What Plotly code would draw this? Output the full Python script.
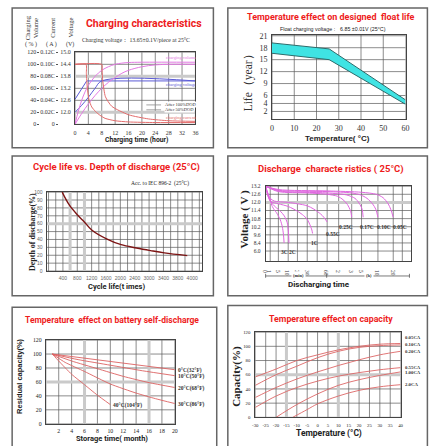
import plotly.graph_objects as go
import numpy as np

W, H = 437, 446

# ================= DATA =================
# Panel 1 - charging characteristics
chg_time_ticks = [0, 4, 8, 12, 16, 20, 24, 28, 32, 36]
chg_volume_ticks = [0, 20, 40, 60, 80, 100, 120]
chg_current_ticks = [0, 0.02, 0.04, 0.06, 0.08, 0.10, 0.12]
chg_current_labels = ["0", "0.02C", "0.04C", "0.06C", "0.08C", "0.10C", "0.12C"]
chg_voltage_grid = [11.4, 12.0, 12.6, 13.2, 13.8, 14.4, 15.0]
chg_voltage_ticks = [12.0, 12.6, 13.2, 13.8, 14.4, 15.0]
chg_voltage_labels = ["12.0", "12.6", "13.2", "13.8", "14.4", "15.0"]

vol50_t = [0, 1, 2, 3, 4, 6, 8, 10, 12, 14, 16, 20, 36]
vol50_pct = [0, 22, 40, 54, 65, 80, 90, 96, 100, 102, 103, 103.5, 103.5]
vol100_t = [0, 2, 4, 6, 8, 10, 12, 14, 16, 20, 24, 28, 36]
vol100_pct = [0, 18, 34, 48, 60, 70, 78, 85, 90, 96, 99, 100, 100]
volt50_t = [0, 1, 2, 3, 3.5, 36]
volt50_v = [12.65, 12.9, 13.15, 13.4, 13.57, 13.57]
volt100_t = [0, 2, 4, 6, 8, 36]
volt100_v = [12.0, 12.35, 12.75, 13.2, 13.57, 13.57]
cur50_t = [0, 3.3, 3.4, 3.7, 4.2, 5, 6.2, 7.5, 9, 12, 16, 24, 36]
cur50_c = [0.10, 0.10, 0.085, 0.06, 0.041, 0.029, 0.021, 0.015, 0.010, 0.006, 0.004, 0.003, 0.003]
cur100_t = [0, 8, 8.1, 8.3, 9.1, 11, 16, 22, 28, 36]
cur100_c = [0.10, 0.10, 0.09, 0.073, 0.046, 0.030, 0.016, 0.009, 0.006, 0.005]

# Panel 2 - float life vs temperature
float_temp = [0, 25.7, 60]
float_life_upper = [19.2, 17.7, 4.9]
float_life_lower = [16.6, 15.0, 3.8]
float_temp_ticks = [0, 10, 20, 30, 40, 50, 60]
float_life_ticks = [2, 4, 6, 9, 12, 15, 18, 21]

# Panel 3 - cycle life vs depth of discharge
cycle_tick_pos = [400, 800, 1200, 1600, 2000, 2400, 2800, 3200, 3600, 4000]
cycle_tick_labels = ["400", "800", "1200", "1600", "2000", "2400", "3000", "3400", "3800", "4000"]
cycle_grid = list(range(0, 4201, 200))
dod_ticks = [0, 10, 20, 30, 40, 50, 60, 70, 80, 90, 100]
cycle_life = [380, 582, 809, 991, 1201, 1630, 2022, 2450, 2841, 3224, 3863]
cycle_dod = [100, 83.4, 70.9, 62.5, 52.1, 40.5, 33.4, 29.2, 25.9, 23.0, 19.6]

# Panel 4 - discharge characteristics
dis_tick_minutes = [0, 1, 5, 10, 20, 30, 60, 120, 180, 300, 600, 1200, 2400]
dis_tick_labels = ["0", "1", "5", "10", "20", "30", "60", "2", "3", "5", "10", "20", ""]
dis_scale_pos = [0, 4.7, 13, 23, 32.4, 42.4, 62.7, 74.4, 87.7, 97.7, 114.4, 130, 148.5]
dis_grid_minutes = [1, 5, 10, 20, 30, 45, 60, 120, 180, 300, 600, 1200, 1800]
dis_v_ticks = [13.2, 12.6, 12.0, 11.4, 10.8, 10.2, 9.6, 9.0, 8.4]
dis_v_labels = ["13.2", "12.6", "12.0", "11.4", "10.8", "10.2", "9.6", "8.4", "6.0"]
dis_names = ["3C", "2C", "1C", "0.55C", "0.25C", "0.17C", "0.10C", "0.05C"]
dis_t = [
    [0, 0.5, 1, 2, 3, 4, 5, 6, 7, 7.6, 7.9],
    [0, 0.5, 1, 2, 4, 6, 8, 9.5, 10.3, 10.8],
    [0, 1, 5, 10, 20, 25, 30, 34, 37, 38],
    [0, 1, 3, 5, 10, 20, 30, 40, 50, 55, 60],
    [0, 5, 30, 60, 115, 140, 160, 175, 180],
    [0, 5, 60, 157, 220, 270, 310, 330],
    [0, 5, 60, 180, 290, 400, 500, 560, 600],
    [0, 5, 60, 300, 570, 800, 1000, 1100, 1200],
]
dis_v = [
    [13.2, 12.5, 12.1, 11.7, 11.45, 11.25, 11.0, 10.7, 10.2, 9.6, 9.0],
    [13.2, 12.6, 12.2, 11.9, 11.6, 11.35, 11.0, 10.5, 9.8, 9.0],
    [13.2, 12.1, 11.9, 11.7, 11.35, 11.1, 10.75, 10.35, 9.95, 9.7],
    [13.2, 12.3, 12.1, 12.05, 12.0, 11.9, 11.75, 11.5, 11.15, 10.9, 10.55],
    [13.2, 12.8, 12.7, 12.6, 12.45, 12.2, 11.85, 11.35, 10.9],
    [13.2, 12.85, 12.7, 12.55, 12.3, 11.95, 11.5, 10.9],
    [13.2, 12.9, 12.8, 12.7, 12.55, 12.3, 11.9, 11.5, 10.9],
    [13.2, 12.95, 12.85, 12.75, 12.6, 12.35, 11.9, 11.5, 10.9],
]

# Panel 5 - self discharge
sd_month_ticks = [2, 4, 6, 8, 10, 12, 14, 16, 18, 20]
sd_month_grid = [0, 2, 4, 6, 8, 10, 12, 14, 16, 18, 20]
sd_cap_ticks = [0, 20, 40, 60, 80, 100, 120]
sd_names = ["0°C(32°F)", "10°C(50°F)", "20°C(68°F)", "30°C(86°F)", "40°C(104°F)"]
sd_month = [
    [1, 20],
    [1, 5, 10, 15, 20],
    [1, 4, 8, 12, 16, 20],
    [1, 3, 6, 10, 14, 17, 20],
    [1, 2, 4, 6, 8, 10],
]
sd_cap = [
    [100, 77.5],
    [100, 92, 84, 76, 69],
    [100, 90, 79, 68, 59, 52],
    [100, 88, 75, 57, 44, 36, 29],
    [100, 90, 71, 56, 41, 27.5],
]

# Panel 6 - capacity vs temperature
cap_temp_ticks = [-30, -25, -20, -15, -10, -5, 0, 5, 10, 15, 20, 25, 30, 35, 40]
cap_ticks = [0, 20, 40, 60, 80, 100, 120]
cap_names = ["0.05CA", "0.10CA", "0.20CA", "0.55CA", "1.00CA", "2.0CA"]
cap_temp = [
    [-30, -20, -10, 0, 10, 20, 30, 40],
    [-30, -20, -10, 0, 10, 20, 30, 40],
    [-30, -20, -10, 0, 10, 20, 30, 40],
    [-30, -20, -10, 0, 10, 20, 30, 40],
    [-20, -10, 0, 10, 20, 30, 40],
    [-12, -5, 0, 10, 20, 30, 40],
]
cap_val = [
    [57, 68, 80, 88, 95, 100, 103, 104],
    [45, 60, 72, 84, 93, 98.5, 101, 102],
    [28, 42, 54, 64, 73, 81, 88, 93],
    [14, 30, 42, 51, 58, 63, 67, 70],
    [0, 18, 33, 45, 53, 59, 64],
    [0, 11, 19, 30, 38, 43, 46],
]

# ================= STYLE =================
SERIF = "Liberation Serif, Times New Roman, serif"
SANS = "Liberation Sans, Arial, sans-serif"
NARROW = "Roboto, Liberation Sans, sans-serif"
RED_T = "#ee1c1c"
GRID = "#5a5a5a"
FRAME = "#444444"
PALE = "#cacaca"

def dx(a, b):
    return [a / W, b / W]

def dy(top, bot):
    return [1 - bot / H, 1 - top / H]

annotations = []
shapes = []

def txt(s, x, y, size, color="#222222", family=SANS, bold=False, angle=0,
        xanchor="center", yanchor="middle", xref="paper", yref="paper", **kw):
    if xref == "paper":
        x = x / W
    if yref == "paper":
        y = 1 - y / H
    if bold:
        s = "<b>" + s + "</b>"
    annotations.append(dict(text=s, x=x, y=y, xref=xref, yref=yref, showarrow=False,
                            font=dict(size=size, color=color, family=family),
                            textangle=angle, xanchor=xanchor, yanchor=yanchor, **kw))

def box(x0, y0, x1, y1):
    shapes.append(dict(type="rect", xref="paper", yref="paper", x0=x0 / W, x1=x1 / W,
                       y0=1 - y1 / H, y1=1 - y0 / H, line=dict(color="#666666", width=1.5),
                       layer="below"))

def vline(xref, yref, x, color=GRID, width=0.7):
    shapes.append(dict(type="line", xref=xref, yref=yref + " domain", x0=x, x1=x, y0=0, y1=1,
                       line=dict(color=color, width=width), layer="below"))

def hline(xref, yref, y, color=GRID, width=0.7):
    shapes.append(dict(type="line", xref=xref + " domain", yref=yref, x0=0, x1=1, y0=y, y1=y,
                       line=dict(color=color, width=width), layer="below"))

def grid(xref, yref, xs, ys, pale_x=(), pale_y=()):
    for v in xs:
        vline(xref, yref, v)
    for v in ys:
        hline(xref, yref, v)
    for v in pale_x:
        vline(xref, yref, v, PALE, 3)
    for v in pale_y:
        hline(xref, yref, v, PALE, 3)

def axis(domain, rng, tickvals, ticktext, font, anchor, **kw):
    d = dict(domain=domain, range=rng, tickvals=tickvals, ticktext=ticktext, tickfont=font,
             anchor=anchor, showgrid=False, showline=True, mirror=True, linecolor=FRAME,
             linewidth=1, zeroline=False, ticks="", fixedrange=True)
    d.update(kw)
    return d

fig = go.Figure()
layout_axes = {}

# ---------------- Panel 1 ----------------
VOL_C, VLT_C, CUR_C = "#e37ae3", "#5b5bd6", "#e36b6b"
fig.add_trace(go.Scatter(x=vol50_t, y=vol50_pct, xaxis="x", yaxis="y2", mode="lines",
                         line=dict(color=VOL_C, width=1, shape="spline")))
fig.add_trace(go.Scatter(x=vol100_t, y=vol100_pct, xaxis="x", yaxis="y2", mode="lines",
                         line=dict(color=VOL_C, width=1, shape="spline")))
fig.add_trace(go.Scatter(x=volt50_t, y=volt50_v, xaxis="x", yaxis="y", mode="lines",
                         line=dict(color=VLT_C, width=1)))
fig.add_trace(go.Scatter(x=volt100_t, y=volt100_v, xaxis="x", yaxis="y", mode="lines",
                         line=dict(color=VLT_C, width=1, shape="spline")))
fig.add_trace(go.Scatter(x=cur50_t, y=cur50_c, xaxis="x", yaxis="y3", mode="lines",
                         line=dict(color=CUR_C, width=1, shape="spline", smoothing=0.6)))
fig.add_trace(go.Scatter(x=cur100_t, y=cur100_c, xaxis="x", yaxis="y3", mode="lines",
                         line=dict(color=CUR_C, width=1, shape="spline", smoothing=0.6)))
f1 = dict(family=SERIF, size=6, color="#333333")
layout_axes["xaxis"] = axis(dx(72.3, 195), [0, 36], chg_time_ticks, [str(v) for v in chg_time_ticks],
                            f1, "y", ticklabelstandoff=2)
layout_axes["yaxis"] = axis(dy(50, 123), [11.4, 15.0], chg_voltage_ticks, chg_voltage_labels, f1, "x",
                            ticklabelstandoff=2)
layout_axes["yaxis2"] = dict(overlaying="y", anchor="free", position=36 / W, range=[0, 120],
                             tickvals=chg_volume_ticks, ticktext=[str(v) for v in chg_volume_ticks],
                             tickfont=f1, showgrid=False, zeroline=False, showline=False,
                             ticks="outside", ticklen=2, tickcolor="#555", fixedrange=True)
layout_axes["yaxis3"] = dict(overlaying="y", anchor="free", position=55 / W, range=[0, 0.12],
                             tickvals=chg_current_ticks, ticktext=chg_current_labels,
                             tickfont=f1, showgrid=False, zeroline=False, showline=False,
                             ticks="outside", ticklen=2, tickcolor="#555", fixedrange=True)
grid("x", "y", chg_time_ticks, chg_voltage_grid, pale_y=[13.8, 12.0])
box(8.3, 5, 213.3, 146.7)
txt("Charging characteristics", 143, 21, 10.5, RED_T, NARROW, True)
txt("Charging voltage： 13.65±0.1V/piece at 25°C", 134, 37.5, 5.8, "#333", SERIF)
txt("Charging<br>Volume", 28, 25, 6.5, "#333", SERIF, angle=-90)
txt("Current", 50, 25, 6.5, "#333", SERIF, angle=-90)
txt("Voltage", 68, 25, 6.5, "#333", SERIF, angle=-90)
txt("( % )", 27, 42, 6, "#333", SERIF)
txt("( A )", 48, 42, 6, "#333", SERIF)
txt("(V)", 67, 42, 6, "#333", SERIF)
txt("Charging time (hour)", 135, 139, 6.8, "#222", NARROW, True)
txt("charging volume", 180, 55.7, 4.5, VOL_C, SERIF)
txt("charging voltage", 180, 82.3, 4.5, VLT_C, SERIF)
txt("charging current", 180, 116, 4.5, CUR_C, SERIF)
for yy, lab in [(103.3, "After 100%DOD"), (108.3, "After 50%DOD")]:
    shapes.append(dict(type="line", xref="paper", yref="paper", x0=145 / W, x1=160 / W,
                       y0=1 - yy / H, y1=1 - yy / H, line=dict(color="#8a8a8a", width=0.8)))
    txt(lab, 163, yy, 4.5, "#333", SERIF, xanchor="left", bgcolor="white", borderpad=0)

# ---------------- Panel 2 ----------------
fig.add_trace(go.Scatter(x=float_temp, y=float_life_lower, xaxis="x2", yaxis="y4", mode="lines",
                         line=dict(color="#2d6b6b", width=1)))
fig.add_trace(go.Scatter(x=float_temp, y=float_life_upper, xaxis="x2", yaxis="y4", mode="lines",
                         fill="tonexty", fillcolor="#3fe3e3", line=dict(color="#2d6b6b", width=1)))
f2 = dict(family=SERIF, size=8, color="#333333")
layout_axes["xaxis2"] = axis(dx(273, 409), [0, 60], float_temp_ticks, [str(v) for v in float_temp_ticks],
                             f2, "y4", ticklabelstandoff=1)
layout_axes["yaxis4"] = axis(dy(32, 118), [0, 21.3], float_life_ticks, [str(v) for v in float_life_ticks],
                             f2, "x2", ticklabelstandoff=2)
grid("x2", "y4", float_temp_ticks, float_life_ticks)
box(228, 5, 431.3, 146.7)
txt("Temperature effect on designed  float life", 333, 14, 9, RED_T, NARROW, True)
txt("Float charging voltage：  6.85 ±0.01V (25°C)", 335, 26, 5.3, "#222", SANS)
txt("Life（year）", 250, 78, 11.5, "#333", SERIF, angle=-90)
txt("Temperature( °C)", 340, 137.3, 8, "#222", SANS, True)

# ---------------- Panel 3 ----------------
fig.add_trace(go.Scatter(x=cycle_life, y=cycle_dod, xaxis="x3", yaxis="y5", mode="lines",
                         line=dict(color="#7d1414", width=1.4, shape="spline")))
f3 = dict(family=SANS, size=5, color="#666666")
layout_axes["xaxis3"] = axis(dx(43.3, 201.7), [-57, 4274], cycle_tick_pos, cycle_tick_labels, f3, "y5",
                             ticklabelstandoff=2)
layout_axes["yaxis5"] = axis(dy(191.7, 271.7), [0, 100], dod_ticks, [str(v) for v in dod_ticks], f3, "x3",
                             ticklabelstandoff=2)
grid("x3", "y5", cycle_grid, dod_ticks, pale_x=[600, 1000], pale_y=[60])
box(8.3, 155, 213.3, 296.7)
txt("Cycle life vs. Depth of discharge (25°C)", 115, 166.7, 9.5, RED_T, NARROW, True)
txt("Acc. to IEC 896-2  (25°C)", 190, 183.3, 5.5, "#222", SERIF, xanchor="right")
txt("Depth of discharge(%)", 29, 231.7, 8, "#222", SERIF, True, angle=-90)
txt("Cycle life(t imes)", 115, 287.7, 7.5, "#222", NARROW, True)

# ---------------- Panel 4 ----------------
DIS_C = "#df67df"
def tpos(t):
    return np.interp(t, dis_tick_minutes, dis_scale_pos)
label_shift = {"3C": (0, -4), "2C": (4, -4), "1C": (2, -5), "0.55C": (6, -7),
               "0.25C": (-6, -5), "0.17C": (4, -5), "0.10C": (6, -5), "0.05C": (7, -5)}
grid("x4", "y6", tpos(dis_grid_minutes), dis_v_ticks, pale_y=[12.0])
for name, tt, vv in zip(dis_names, dis_t, dis_v):
    xs = tpos(tt)
    fig.add_trace(go.Scatter(x=xs, y=vv, xaxis="x4", yaxis="y6", mode="lines",
                             line=dict(color=DIS_C, width=1, shape="spline", smoothing=0.8)))
    sx, sy = label_shift[name]
    txt(name, xs[-1], vv[-1], 5.5, "#333", SERIF, True, xref="x4", yref="y6",
        yanchor="top", xshift=sx, yshift=sy)
f4 = dict(family=SERIF, size=5.5, color="#333333")
layout_axes["xaxis4"] = axis(dx(266.5, 415), [0, 148.5], dis_scale_pos[:-1], dis_tick_labels[:-1], f4, "y6",
                             ticklabelstandoff=4)
layout_axes["yaxis6"] = axis(dy(185, 261.7), [7.65, 13.25], dis_v_ticks, dis_v_labels, f4, "x4",
                             ticklabelstandoff=3)
shapes.append(dict(type="line", xref="paper", yref="paper", x0=266.5 / W, x1=413 / W,
                   y0=1 - 276.7 / H, y1=1 - 276.7 / H, line=dict(color="#555", width=0.8)))
for xv in [266.5, 328.7, 413]:
    shapes.append(dict(type="line", xref="paper", yref="paper", x0=xv / W, x1=xv / W,
                       y0=1 - 274.5 / H, y1=1 - 278.5 / H, line=dict(color="#555", width=0.8)))
txt("(min)", 299.7, 276.7, 4.5, "#333", SERIF, True, bgcolor="white")
txt("(h)", 371.3, 276.7, 4.5, "#333", SERIF, True, bgcolor="white")
box(228, 155, 431.3, 296.7)
txt("Discharge  characte ristics ( 25°C)", 333, 168.3, 9.5, RED_T, NARROW, True)
txt("Voltage ( V )", 245, 220, 11, "#222", SERIF, True, angle=-90)
txt("Discharging time", 321, 285.5, 8, "#222", NARROW, True)

# ---------------- Panel 5 ----------------
SD_C = "#dd6262"
grid("x5", "y7", sd_month_grid, sd_cap_ticks, pale_x=[6, 16], pale_y=[60])
for name, mm, cc in zip(sd_names, sd_month, sd_cap):
    fig.add_trace(go.Scatter(x=mm, y=cc, xaxis="x5", yaxis="y7", mode="lines",
                             line=dict(color=SD_C, width=0.9, shape="spline", smoothing=0.5)))
    txt(name, mm[-1], cc[-1], 5.5, "#333", SERIF, True, xref="x5", yref="y7",
        xanchor="left", xshift=1, yshift=-1)
f5 = dict(family=SERIF, size=5.8, color="#222222")
layout_axes["xaxis5"] = axis(dx(42.6, 174), [0, 20], sd_month_ticks, [str(v) for v in sd_month_ticks],
                             dict(f5), "y7", ticklabelstandoff=1)
layout_axes["yaxis7"] = axis(dy(341.7, 426.5), [0, 120], sd_cap_ticks, [str(v) for v in sd_cap_ticks],
                             f5, "x5", ticklabelstandoff=2)
box(8.3, 308.3, 216.7, 452)
txt("Temperature  effect on battery self-discharge", 110, 321.7, 8.5, RED_T, NARROW, True)
txt("Residual capacity(%)", 15, 378.3, 7.5, "#222", SANS, True, angle=-90)
txt("Storage time( month)", 110, 441.5, 7.5, "#222", NARROW, True)

# ---------------- Panel 6 ----------------
CAP_C = "#dd6666"
grid("x6", "y8", cap_temp_ticks, cap_ticks, pale_x=[-15, 10], pale_y=[60])
cap_label_shift = [6, 0, 0, 0, -1, 0]
for name, tt, vv, ys in zip(cap_names, cap_temp, cap_val, cap_label_shift):
    fig.add_trace(go.Scatter(x=tt, y=vv, xaxis="x6", yaxis="y8", mode="lines",
                             line=dict(color=CAP_C, width=0.9, shape="spline")))
    txt(name, tt[-1], vv[-1], 4.8, "#333", SERIF, True, xref="x6", yref="y8",
        xanchor="left", xshift=2, yshift=ys)
f6 = dict(family=SERIF, size=4.8, color="#222222")
layout_axes["xaxis6"] = axis(dx(256, 404), [-30, 40], cap_temp_ticks, [str(v) for v in cap_temp_ticks],
                             f6, "y8", ticklabelstandoff=3)
layout_axes["yaxis8"] = axis(dy(333.6, 420), [0, 120], cap_ticks, [str(v) for v in cap_ticks],
                             f6, "x6", ticklabelstandoff=3)
box(228, 306.7, 431.3, 452)
txt("Temperature effect on capacity", 333, 320, 8.8, RED_T, NARROW, True)
txt("Capacity(%)", 237, 378.3, 11, "#222", SERIF, True, angle=-90)
txt("Temperature (°C)", 331, 436, 8.5, "#222", NARROW, True)

fig.update_layout(width=W, height=H, margin=dict(l=0, r=0, t=0, b=0), showlegend=False,
                  paper_bgcolor="white", plot_bgcolor="white",
                  annotations=annotations, shapes=shapes, **layout_axes)
fig.write_html("out.html", config={"displayModeBar": False},
               post_script="document.body.style.margin='0px';document.body.style.padding='0px';"
                           "document.body.style.overflow='hidden';")
